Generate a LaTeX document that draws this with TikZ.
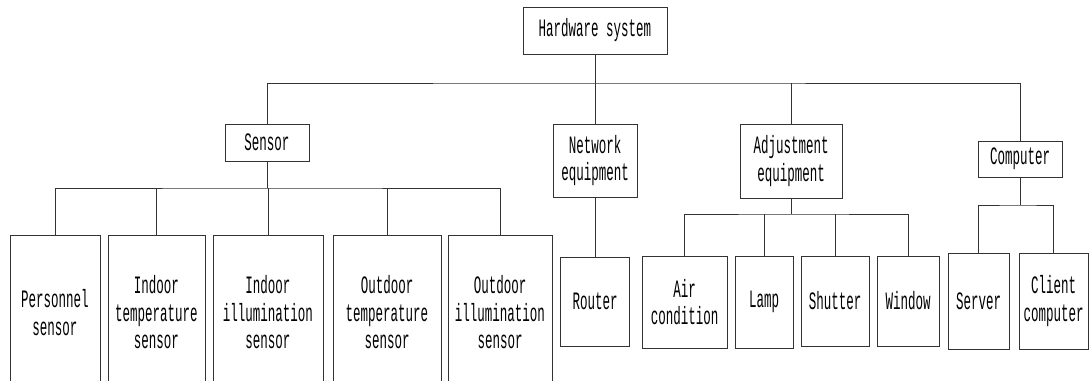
\documentclass[tikz,border=0pt]{standalone}
\usepackage{fontspec}
\setmainfont[FakeStretch=0.5]{Liberation Mono}
\begin{document}
\begin{tikzpicture}[x=1pt,y=-1pt,
  box/.style={draw=black!80, line width=1pt, align=center, inner sep=0pt,
    font=\fontsize{25}{27.5}\selectfont},
  wire/.style={draw=black!80, line width=1pt}]
\useasboundingbox[fill=white] (0,0) rectangle (1089,380);
% root and second level
\node[box, minimum width=144, minimum height=47] (hw) at (595,30.5) {Hardware system};
\node[box, minimum width=84, minimum height=37] (sen) at (267,142.5) {Sensor};
\node[box, minimum width=84, minimum height=73] (net) at (595,160.5) {Network\\equipment};
\node[box, minimum width=102, minimum height=74] (adj) at (791,161) {Adjustment\\equipment};
\node[box, minimum width=84, minimum height=36] (comp) at (1020,159) {Computer};
% sensors
\node[box, minimum width=90, minimum height=155] (s1) at (55,312.5) {Personnel\\sensor};
\node[box, minimum width=97, minimum height=155] (s2) at (156.5,312.5) {Indoor\\temperature\\sensor};
\node[box, minimum width=110, minimum height=155] (s3) at (268,312.5) {Indoor\\illumination\\sensor};
\node[box, minimum width=108, minimum height=155] (s4) at (387,312.5) {Outdoor\\temperature\\sensor};
\node[box, minimum width=104, minimum height=155] (s5) at (500,312.5) {Outdoor\\illumination\\sensor};
% network
\node[box, minimum width=69, minimum height=89] (rt) at (595,301.5) {Router};
% adjustment
\node[box, minimum width=85, minimum height=92] (a1) at (684.5,302) {Air\\condition};
\node[box, minimum width=58, minimum height=92] (a2) at (764,302) {Lamp};
\node[box, minimum width=68, minimum height=90] (a3) at (835,301) {Shutter};
\node[box, minimum width=62, minimum height=90] (a4) at (908,301) {Window};
% computers
\node[box, minimum width=61, minimum height=96] (c1) at (978.5,301) {Server};
\node[box, minimum width=69, minimum height=96] (c2) at (1053.5,301) {Client\\computer};
% bus levels
\coordinate (b0) at (595,83);
\coordinate (bs) at (267,188);
\coordinate (ba) at (791,214);
\coordinate (bc) at (1020,205);
% root bus
\draw[wire] (hw.south) -- (b0);
\draw[wire] (sen.north) |- (b0) -| (comp.north);
\draw[wire] (net.north) -- (b0);
\draw[wire] (adj.north) -- (adj.north |- b0);
% sensor bus
\draw[wire] (sen.south) -- (bs);
\draw[wire] (s1.north) |- (bs) -| (s5.north);
\draw[wire] (s2.north) -- (s2.north |- bs);
\draw[wire] (s3.north) -- (s3.north |- bs);
\draw[wire] (s4.north) -- (s4.north |- bs);
% router
\draw[wire] (net.south) -- (rt.north);
% adjustment bus
\draw[wire] (adj.south) -- (ba);
\draw[wire] (a1.north) |- (ba) -| (a4.north);
\draw[wire] (a2.north) -- (a2.north |- ba);
\draw[wire] (a3.north) -- (a3.north |- ba);
% computer bus
\draw[wire] (comp.south) -- (bc);
\draw[wire] (c1.north) |- (bc) -| (c2.north);
\end{tikzpicture}
\end{document}
